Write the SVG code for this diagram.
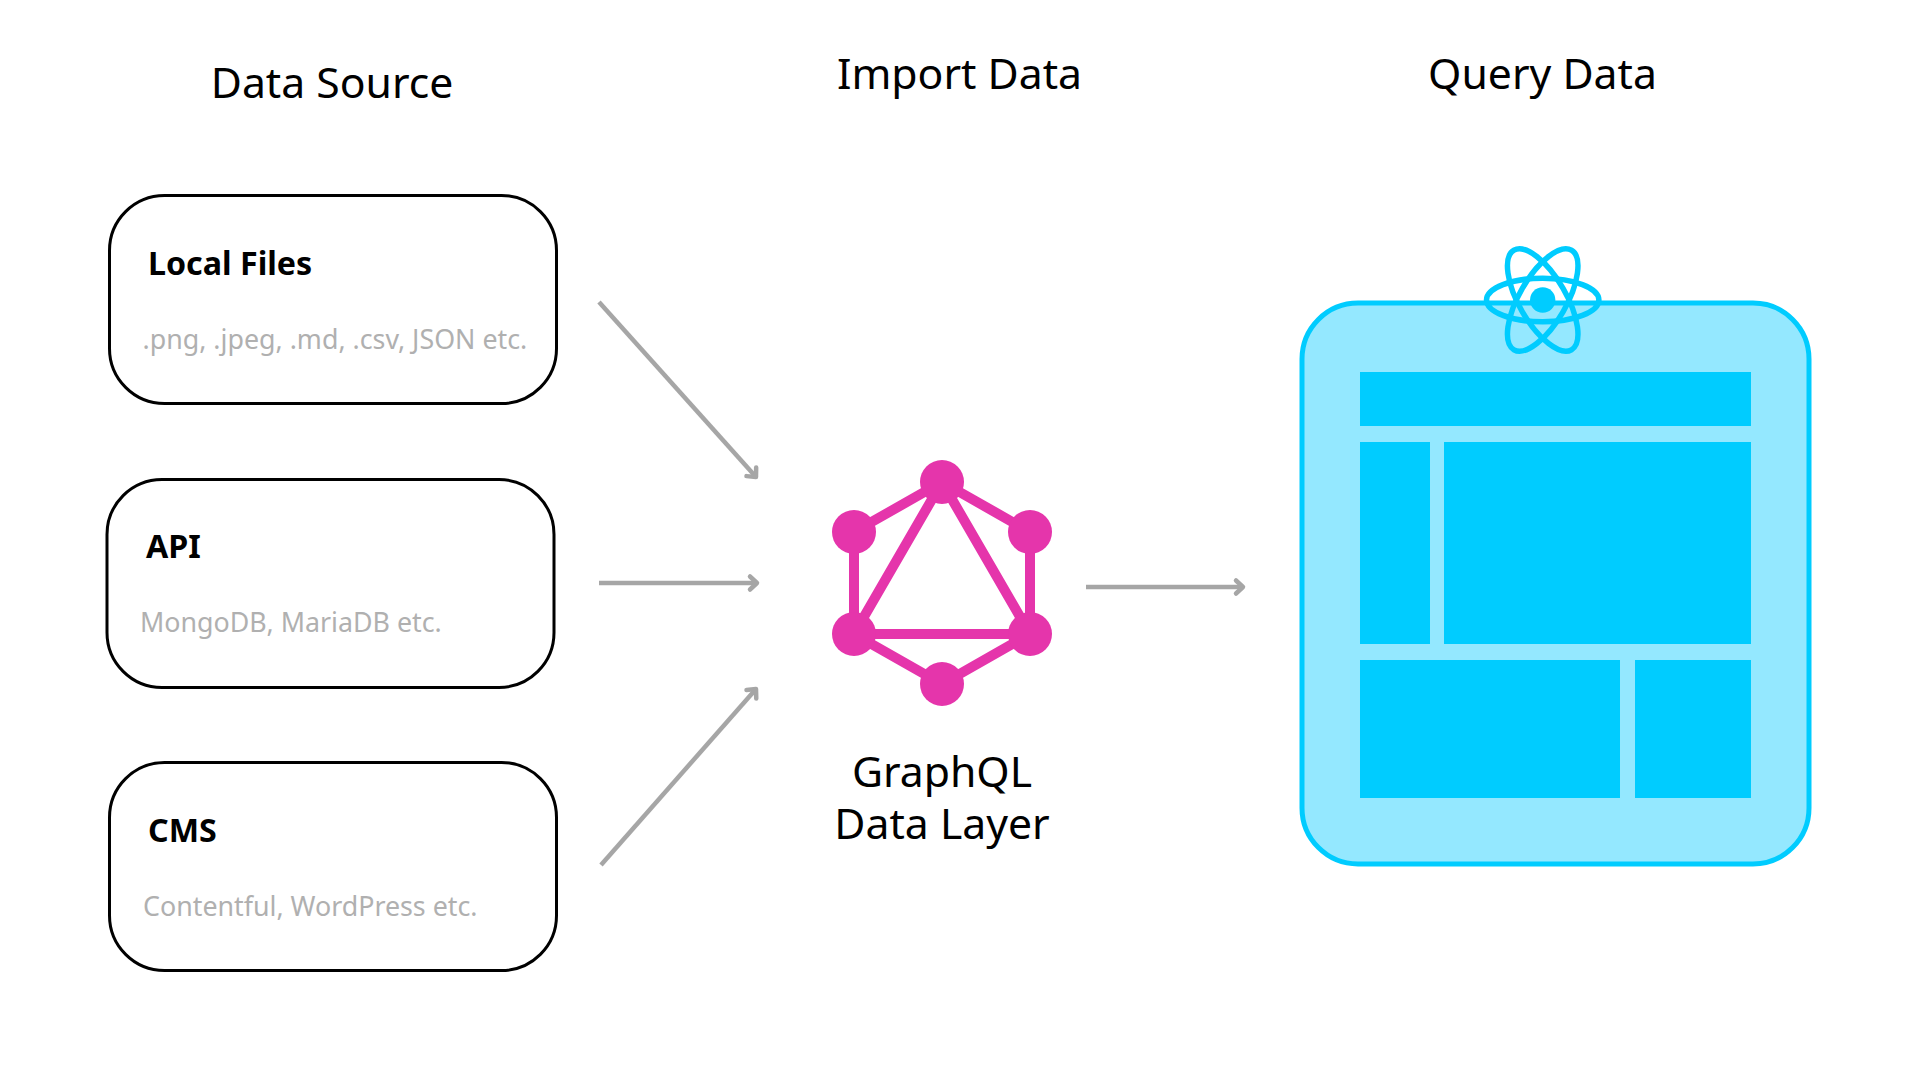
<svg xmlns="http://www.w3.org/2000/svg" width="1920" height="1080" viewBox="0 0 1920 1080">
<style>
text{font-family:"Noto Sans","Open Sans",sans-serif}
.h{font-size:42.7px;fill:#000;text-anchor:middle}
.t{font-size:32.200px;font-weight:700;fill:#000}
.s{font-size:26.800px;fill:#b0b0b0}
.box{fill:#fff;stroke:#000;stroke-width:3}
.arrow{fill:none;stroke:#a6a6a6;stroke-width:4.5;marker-end:url(#ah)}
.gq{stroke:#e535ab;stroke-width:10;fill:none}
.r{fill:#00ccff}
.orb{fill:none;stroke:#00ccff;stroke-width:5.5}
</style>
<defs>
<marker id="ah" markerUnits="userSpaceOnUse" markerWidth="24" markerHeight="24" refX="14" refY="12" orient="auto" overflow="visible">
<path d="M7 5.500 L14 12 L7 18.500" fill="none" stroke="#a6a6a6" stroke-width="4.5" stroke-linecap="round" stroke-linejoin="round"/>
</marker>
</defs>
<rect width="1920" height="1080" fill="#fff"/>
<g id="heading-source"><text class="h" x="332" y="97.500">Data Source</text></g>
<g id="heading-import"><text class="h" x="959.500" y="88.500">Import Data</text></g>
<g id="heading-query"><text class="h" x="1542.500" y="88.500">Query Data</text></g>
<g id="local-files">
<rect class="box" x="109.500" y="195.500" width="447" height="208" rx="55"/>
<text class="t" x="148" y="275">Local Files</text>
<text class="s" x="142.500" y="349">.png, .jpeg, .md, .csv, JSON etc.</text>
</g>
<g id="api">
<rect class="box" x="107" y="479.500" width="447" height="208" rx="55"/>
<text class="t" x="146" y="558">API</text>
<text class="s" x="140" y="632">MongoDB, MariaDB etc.</text>
</g>
<g id="cms">
<rect class="box" x="109.500" y="762.500" width="447" height="208" rx="55"/>
<text class="t" x="148" y="842">CMS</text>
<text class="s" x="143" y="916">Contentful, WordPress etc.</text>
</g>
<g id="connectors">
<path class="arrow" d="M599 302 L756 477"/>
<path class="arrow" d="M599 583 L757 583"/>
<path class="arrow" d="M601 865 L756 689"/>
<path class="arrow" d="M1086 587 L1243 587"/>
</g>
<g id="graphql">
<path class="gq" d="M942 482 L1030 532 V634 L942 684 L854 634 V532 Z M942 482 L1030 634 H854 Z"/>
<g fill="#e535ab">
<circle cx="942" cy="482" r="22"/><circle cx="854" cy="532" r="22"/><circle cx="1030" cy="532" r="22"/>
<circle cx="854" cy="634" r="22"/><circle cx="1030" cy="634" r="22"/><circle cx="942" cy="684" r="22"/>
</g>
<text class="h" x="942" y="787">GraphQL</text>
<text class="h" x="942" y="839">Data Layer</text>
</g>
<g id="page">
<rect x="1302" y="303" width="507" height="561" rx="56" fill="#94e8ff" stroke="#00ccff" stroke-width="5"/>
<rect class="r" x="1360" y="372" width="391" height="54"/>
<rect class="r" x="1360" y="442" width="70" height="202"/>
<rect class="r" x="1444" y="442" width="307" height="202"/>
<rect class="r" x="1360" y="660" width="260" height="138"/>
<rect class="r" x="1635" y="660" width="116" height="138"/>
</g>
<g id="react">
<ellipse class="orb" cx="1542.700" cy="300" rx="56.200" ry="21.800"/>
<ellipse class="orb" cx="1542.700" cy="300" rx="57.500" ry="23.500" transform="rotate(60 1542.700 300)"/>
<ellipse class="orb" cx="1542.700" cy="300" rx="57.500" ry="23.500" transform="rotate(-60 1542.700 300)"/>
<circle class="r" cx="1542.700" cy="300" r="12.700"/>
</g>
</svg>
